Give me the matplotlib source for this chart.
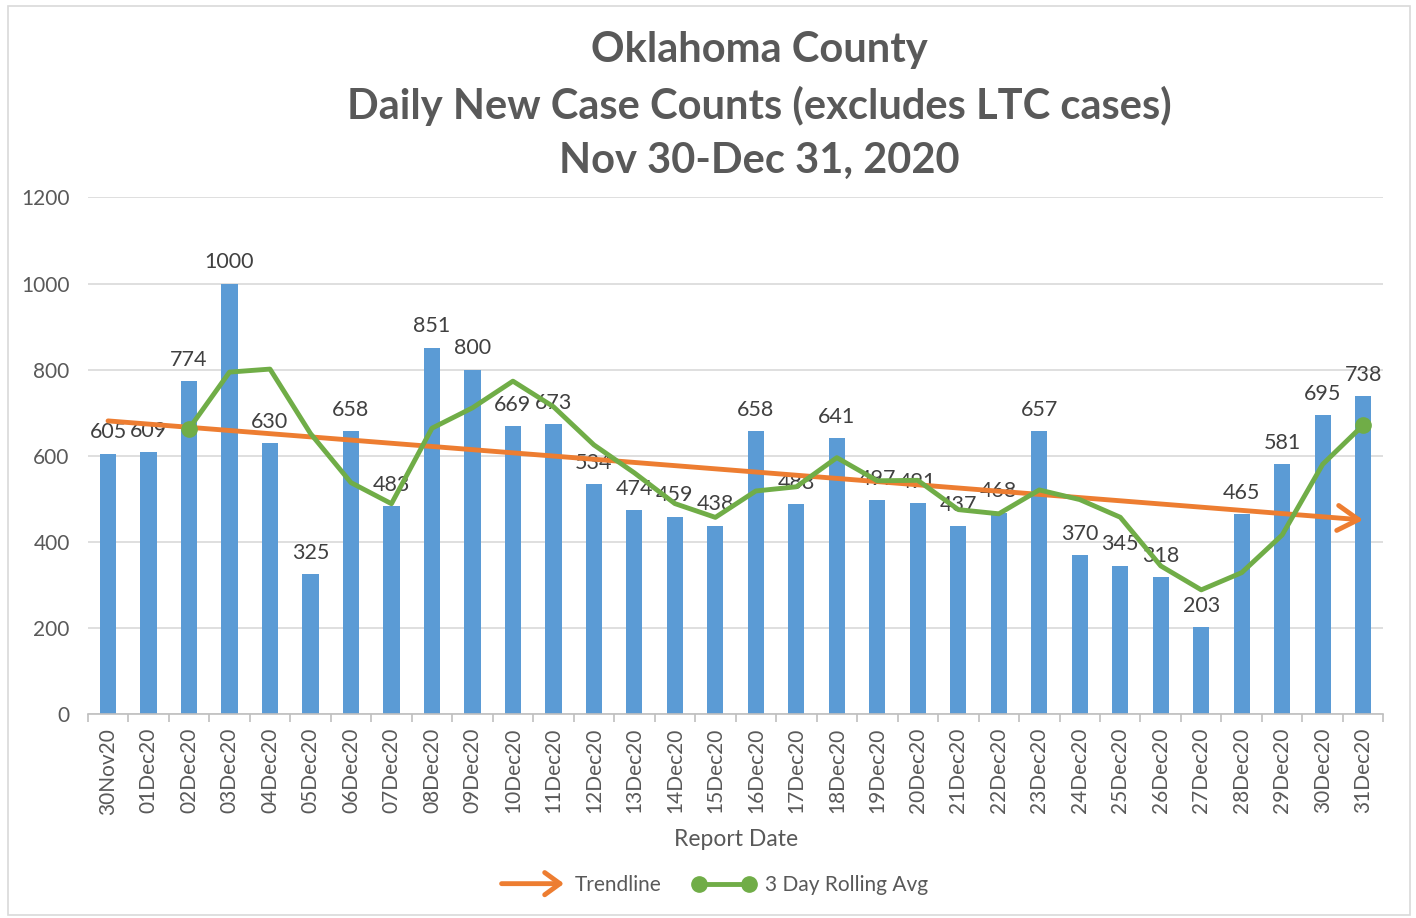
import numpy as np
import matplotlib.pyplot as plt
from matplotlib.lines import Line2D
from matplotlib.patches import FancyArrowPatch
from matplotlib.legend_handler import HandlerPatch

plt.rcParams['font.family'] = ['Lato', 'DejaVu Sans']

dates = ["30Nov20", "01Dec20", "02Dec20", "03Dec20", "04Dec20", "05Dec20", "06Dec20",
         "07Dec20", "08Dec20", "09Dec20", "10Dec20", "11Dec20", "12Dec20", "13Dec20",
         "14Dec20", "15Dec20", "16Dec20", "17Dec20", "18Dec20", "19Dec20", "20Dec20",
         "21Dec20", "22Dec20", "23Dec20", "24Dec20", "25Dec20", "26Dec20", "27Dec20",
         "28Dec20", "29Dec20", "30Dec20", "31Dec20"]
cases = [605, 609, 774, 1000, 630, 325, 658, 483, 851, 800, 669, 673, 534, 474,
         459, 438, 658, 488, 641, 497, 491, 437, 468, 657, 370, 345, 318, 203,
         465, 581, 695, 738]
# 3 day rolling average, from 02Dec20 on
rolling = [662.7, 794.3, 801.3, 651.7, 537.7, 488.7, 664.0, 711.3, 773.3, 714.0,
           625.3, 560.3, 489.0, 457.0, 518.3, 528.0, 595.7, 542.0, 543.0, 475.0,
           465.3, 520.7, 498.3, 457.3, 344.3, 288.7, 328.7, 416.3, 580.3, 671.3]
trend_ends = [681, 451]

blue = "#5b9bd5"
orange = "#ed7d31"
green = "#70ad47"
txt = "#595959"

fig = plt.figure(figsize=(14.16, 9.18), dpi=100)
ax = fig.add_axes([0.062, 0.222, 0.915, 0.563])

x = np.arange(len(dates))
ax.bar(x, cases, width=0.4, color=blue, zorder=2)
for i, v in enumerate(cases):
    ax.text(i, v + 26, str(v), ha="center", va="bottom", fontsize=15.5, color="#404040", zorder=1)

ax.plot(x[2:], rolling, color=green, lw=3.5, zorder=4)
ax.plot([x[2], x[-1]], [rolling[0], rolling[-1]], "o", color=green, ms=11, zorder=5)

arr = FancyArrowPatch((x[0], trend_ends[0]), (x[-1], trend_ends[1]),
                      arrowstyle="->,head_length=15,head_width=9", color=orange,
                      lw=3.5, mutation_scale=1, zorder=3, shrinkA=0, shrinkB=0)
ax.add_patch(arr)

ax.set_xlim(-0.5, len(dates) - 0.5)
ax.set_ylim(0, 1200)
ax.set_yticks(range(0, 1201, 200))
ax.set_xticks(x)
ax.set_xticklabels(dates, rotation=90, fontsize=15, color=txt)
ax.tick_params(axis="y", length=0, labelsize=15, labelcolor=txt, pad=13)
ax.tick_params(axis="x", length=0, pad=10)
ax.set_xticks(np.arange(-0.5, len(dates), 1), minor=True)
ax.tick_params(axis="x", which="minor", length=6, color="#bfbfbf", width=1.2)
ax.grid(axis="y", color="#d9d9d9", lw=1.2, zorder=0)
ax.set_axisbelow(True)
for s in ["top", "right", "left"]:
    ax.spines[s].set_visible(False)
ax.spines["bottom"].set_color("#bfbfbf")
ax.spines["bottom"].set_linewidth(1.2)

ax.set_xlabel("Report Date", fontsize=16.5, color=txt, labelpad=10)
fig.text(0.536, 0.966, "Oklahoma County\nDaily New Case Counts (excludes LTC cases)\nNov 30-Dec 31, 2020",
         ha="center", va="top", fontsize=30, fontweight="bold", color=txt, linespacing=1.5)


class ArrowHandler(HandlerPatch):
    def create_artists(self, legend, orig, xd, yd, w, h, fs, trans):
        a = FancyArrowPatch((xd, yd + h / 2), (xd + w, yd + h / 2),
                            arrowstyle="->,head_length=11,head_width=8", color=orange,
                            lw=3.5, mutation_scale=1, shrinkA=0, shrinkB=0)
        a.set_transform(trans)
        return [a]


h_trend = FancyArrowPatch((0, 0), (1, 0))
h_roll = Line2D([], [], color=green, lw=3.5, marker="o", ms=11)
fig.legend([h_trend, h_roll], ["Trendline", "3 Day Rolling Avg"],
           handler_map={FancyArrowPatch: ArrowHandler()}, numpoints=2,
           loc="center", bbox_to_anchor=(0.505, 0.036), ncol=2, frameon=False,
           fontsize=15, labelcolor=txt, handlelength=3, columnspacing=1.5, handletextpad=0.5)

fig.patches.append(plt.Rectangle((0.006, 0.003), 0.99, 0.99, transform=fig.transFigure,
                                 fill=False, edgecolor="#d9d9d9", lw=1.2))

fig.savefig("out.png", dpi=100)
